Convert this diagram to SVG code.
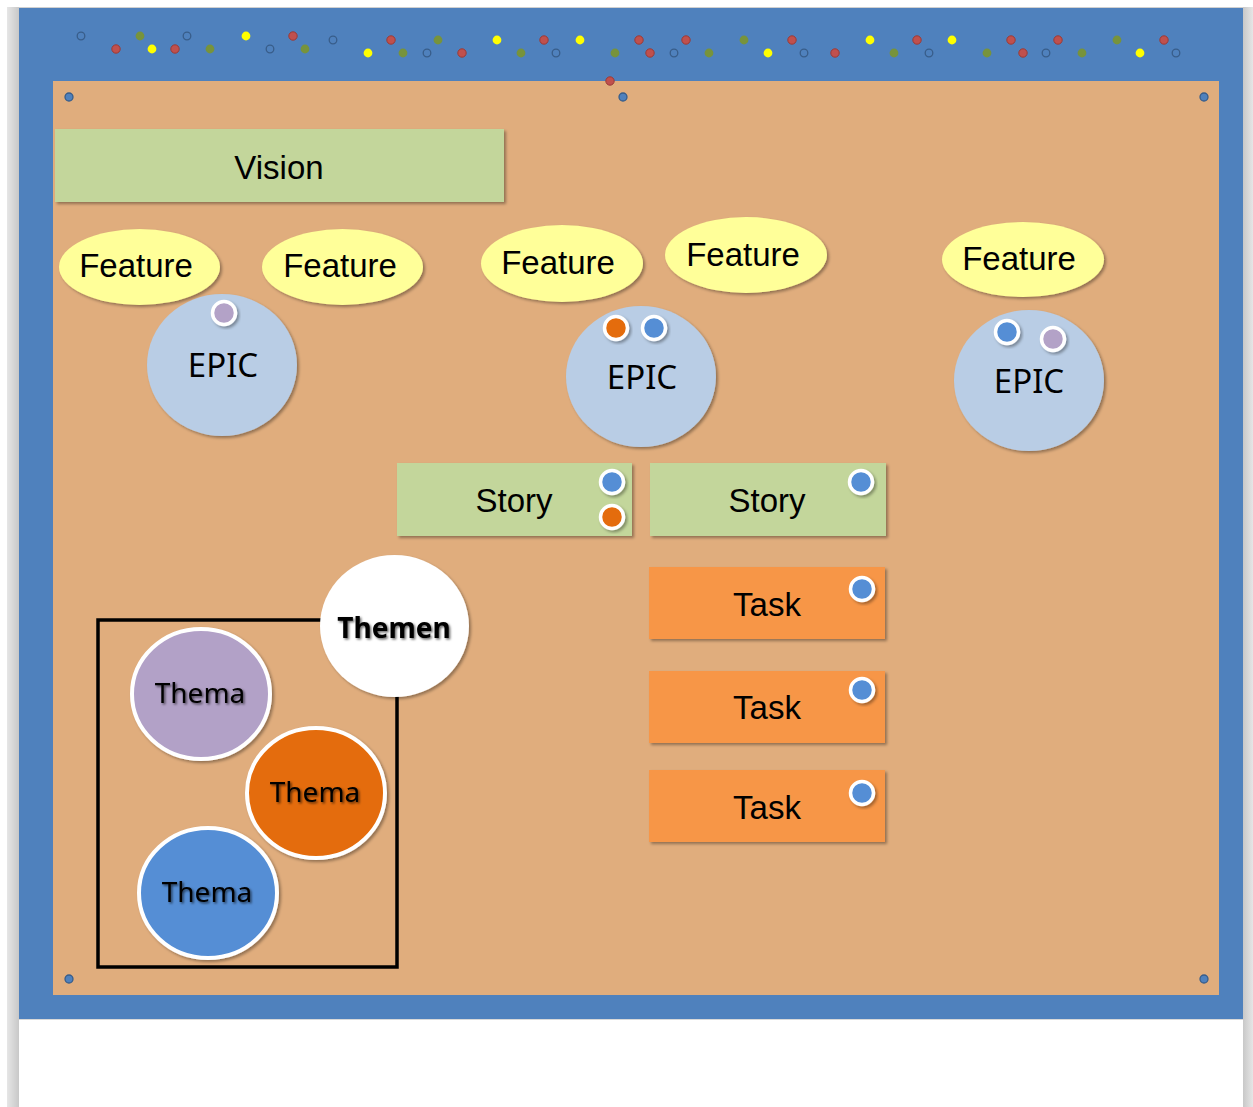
<svg xmlns="http://www.w3.org/2000/svg" width="1253" height="1107" viewBox="0 0 1253 1107">
<defs>
<filter id="sh" x="-10%" y="-10%" width="130%" height="130%">
<feDropShadow dx="2" dy="2" stdDeviation="1.5" flood-color="#000" flood-opacity="0.35"/>
</filter>
<filter id="tsh" x="-10%" y="-20%" width="130%" height="150%">
<feDropShadow dx="1.5" dy="1.5" stdDeviation="1.2" flood-color="#000" flood-opacity="0.6"/>
</filter>
<linearGradient id="lg" x1="0" x2="1" y1="0" y2="0">
<stop offset="0" stop-color="#e6e6e6"/><stop offset="1" stop-color="#c8c8c8"/>
</linearGradient>
<linearGradient id="rg" x1="0" x2="1" y1="0" y2="0">
<stop offset="0" stop-color="#c8c8c8"/><stop offset="1" stop-color="#e6e6e6"/>
</linearGradient>
</defs>
<style>
.sans{font-family:"Liberation Sans",Arial,sans-serif;font-size:33px;fill:#000;text-anchor:middle}
.cal{font-family:"Noto Sans","Open Sans",sans-serif;fill:#000;text-anchor:middle}
.epic{fill:#b9cde5;filter:url(#sh)}
.feat{fill:#ffff99;filter:url(#sh)}
.green{fill:#c3d69b;filter:url(#sh)}
.task{fill:#f79646;filter:url(#sh)}
.tag{stroke:#fff;stroke-width:3.5;filter:url(#sh)}
.thema{stroke:#fff;stroke-width:4;filter:url(#sh)}
.r{fill:#c0504d;stroke:#9a3a37;stroke-width:1}
.o{fill:#77933c}
.y{fill:#ffff00}
.h{fill:none;stroke:#385d8a;stroke-width:1.3}
.pin{fill:#4f81bd;stroke:#385d8a;stroke-width:1.3}
</style>
<rect x="0" y="0" width="1253" height="1107" fill="#fff"/>
<rect x="7" y="7" width="12" height="1100" fill="url(#lg)"/>
<rect x="1243" y="7" width="10" height="1100" fill="url(#rg)"/>
<rect x="19" y="7" width="1224" height="1.5" fill="#d0d0d0"/>
<rect x="19" y="8" width="1224" height="1011" fill="#4f81bd"/>
<rect x="19" y="1019" width="1224" height="1" fill="#d8d8d8"/>
<rect x="53" y="81" width="1166" height="914" fill="#e0ad7d"/>

<g id="dots">
<circle class="h" cx="81" cy="36" r="3.8"/>
<circle class="r" cx="116" cy="49" r="4.2"/>
<circle class="o" cx="140" cy="36" r="4.4"/>
<circle class="y" cx="152" cy="49" r="4.4"/>
<circle class="r" cx="175" cy="49" r="4.2"/>
<circle class="h" cx="187" cy="36" r="3.8"/>
<circle class="o" cx="210" cy="49" r="4.4"/>
<circle class="y" cx="246" cy="36" r="4.4"/>
<circle class="h" cx="270" cy="49" r="3.8"/>
<circle class="r" cx="293" cy="36" r="4.2"/>
<circle class="o" cx="305" cy="49" r="4.4"/>
<circle class="h" cx="333" cy="40" r="3.8"/>
<circle class="y" cx="368" cy="53" r="4.4"/>
<circle class="r" cx="391" cy="40" r="4.2"/>
<circle class="o" cx="403" cy="53" r="4.4"/>
<circle class="h" cx="427" cy="53" r="3.8"/>
<circle class="o" cx="438" cy="40" r="4.4"/>
<circle class="r" cx="462" cy="53" r="4.2"/>
<circle class="y" cx="497" cy="40" r="4.4"/>
<circle class="o" cx="521" cy="53" r="4.4"/>
<circle class="r" cx="544" cy="40" r="4.2"/>
<circle class="h" cx="556" cy="53" r="3.8"/>
<circle class="y" cx="580" cy="40" r="4.4"/>
<circle class="o" cx="615" cy="53" r="4.4"/>
<circle class="r" cx="639" cy="40" r="4.2"/>
<circle class="r" cx="650" cy="53" r="4.2"/>
<circle class="h" cx="674" cy="53" r="3.8"/>
<circle class="r" cx="686" cy="40" r="4.2"/>
<circle class="o" cx="709" cy="53" r="4.4"/>
<circle class="o" cx="744" cy="40" r="4.4"/>
<circle class="y" cx="768" cy="53" r="4.4"/>
<circle class="r" cx="792" cy="40" r="4.2"/>
<circle class="h" cx="804" cy="53" r="3.8"/>
<circle class="r" cx="835" cy="53" r="4.2"/>
<circle class="y" cx="870" cy="40" r="4.4"/>
<circle class="o" cx="894" cy="53" r="4.4"/>
<circle class="r" cx="917" cy="40" r="4.2"/>
<circle class="h" cx="929" cy="53" r="3.8"/>
<circle class="y" cx="952" cy="40" r="4.4"/>
<circle class="o" cx="987" cy="53" r="4.4"/>
<circle class="r" cx="1011" cy="40" r="4.2"/>
<circle class="r" cx="1023" cy="53" r="4.2"/>
<circle class="h" cx="1046" cy="53" r="3.8"/>
<circle class="r" cx="1058" cy="40" r="4.2"/>
<circle class="o" cx="1082" cy="53" r="4.4"/>
<circle class="o" cx="1117" cy="40" r="4.4"/>
<circle class="y" cx="1140" cy="53" r="4.4"/>
<circle class="r" cx="1164" cy="40" r="4.2"/>
<circle class="h" cx="1176" cy="53" r="3.8"/>
<circle class="r" cx="610" cy="81" r="4.2"/>
<circle class="pin" cx="69" cy="97" r="4"/>
<circle class="pin" cx="623" cy="97" r="4"/>
<circle class="pin" cx="1204" cy="97" r="4"/>
<circle class="pin" cx="69" cy="979" r="4"/>
<circle class="pin" cx="1204" cy="979" r="4"/>
</g>

<g id="connectors"></g>

<g id="vision">
<rect class="green" x="55" y="129" width="449" height="73"/>
<text class="sans" x="279" y="179">Vision</text>
</g>

<g id="feature1">
<ellipse class="feat" cx="139.5" cy="267" rx="80.5" ry="38"/>
<text class="sans" x="136" y="277">Feature</text>
</g>
<g id="feature2">
<ellipse class="feat" cx="342.5" cy="267" rx="80.5" ry="38"/>
<text class="sans" x="340" y="277">Feature</text>
</g>
<g id="feature3">
<ellipse class="feat" cx="562" cy="263.5" rx="81" ry="38.5"/>
<text class="sans" x="558" y="274">Feature</text>
</g>
<g id="feature4">
<ellipse class="feat" cx="746" cy="255" rx="81" ry="38"/>
<text class="sans" x="743" y="266">Feature</text>
</g>
<g id="feature5">
<ellipse class="feat" cx="1023" cy="259.5" rx="81" ry="37.5"/>
<text class="sans" x="1019" y="270">Feature</text>
</g>

<g id="epic1">
<ellipse class="epic" cx="222" cy="365" rx="75" ry="71"/>
<circle class="tag" cx="224" cy="313" r="11.5" fill="#b3a2c7"/>
<text class="cal" x="223" y="377" font-size="33">EPIC</text>
</g>
<g id="epic2">
<ellipse class="epic" cx="641" cy="376.5" rx="75" ry="70.5"/>
<circle class="tag" cx="616" cy="328" r="11.5" fill="#e46c0a"/>
<circle class="tag" cx="654" cy="328" r="11.5" fill="#558ed5"/>
<text class="cal" x="642" y="389" font-size="33">EPIC</text>
</g>
<g id="epic3">
<ellipse class="epic" cx="1029" cy="380.5" rx="75" ry="70.5"/>
<circle class="tag" cx="1007" cy="332" r="11.5" fill="#558ed5"/>
<circle class="tag" cx="1053" cy="339" r="11.5" fill="#b3a2c7"/>
<text class="cal" x="1029" y="393" font-size="33">EPIC</text>
</g>

<g id="story1">
<rect class="green" x="397" y="463" width="235" height="73"/>
<circle class="tag" cx="612" cy="482" r="11.5" fill="#558ed5"/>
<circle class="tag" cx="612" cy="517" r="11.5" fill="#e46c0a"/>
<text class="sans" x="514" y="512">Story</text>
</g>
<g id="story2">
<rect class="green" x="650" y="463" width="236" height="73"/>
<circle class="tag" cx="861" cy="482" r="11.5" fill="#558ed5"/>
<text class="sans" x="767" y="512">Story</text>
</g>

<g id="task1">
<rect class="task" x="649" y="567" width="236" height="72"/>
<circle class="tag" cx="862" cy="589" r="11.5" fill="#558ed5"/>
<text class="sans" x="767" y="616">Task</text>
</g>
<g id="task2">
<rect class="task" x="649" y="671" width="236" height="72"/>
<circle class="tag" cx="862" cy="690" r="11.5" fill="#558ed5"/>
<text class="sans" x="767" y="719">Task</text>
</g>
<g id="task3">
<rect class="task" x="649" y="770" width="236" height="72"/>
<circle class="tag" cx="862" cy="793" r="11.5" fill="#558ed5"/>
<text class="sans" x="767" y="819">Task</text>
</g>

<g id="themen-box">
<rect x="98" y="620" width="299" height="347" fill="none" stroke="#000" stroke-width="3.5"/>
</g>
<g id="thema1">
<ellipse class="thema" cx="201" cy="694" rx="69" ry="65" fill="#b2a1c7"/>
<text class="cal" x="200" y="703" font-size="28" filter="url(#tsh)">Thema</text>
</g>
<g id="thema2">
<ellipse class="thema" cx="316" cy="793" rx="69" ry="65" fill="#e46c0a"/>
<text class="cal" x="315" y="802" font-size="28" filter="url(#tsh)">Thema</text>
</g>
<g id="thema3">
<ellipse class="thema" cx="208" cy="893" rx="69" ry="65" fill="#558ed5"/>
<text class="cal" x="207" y="902" font-size="28" filter="url(#tsh)">Thema</text>
</g>
<g id="themen">
<ellipse cx="394.5" cy="626" rx="74.5" ry="71" fill="#fff" filter="url(#sh)"/>
<text class="cal" x="394" y="638" font-size="28" font-weight="bold" filter="url(#tsh)">Themen</text>
</g>
</svg>
